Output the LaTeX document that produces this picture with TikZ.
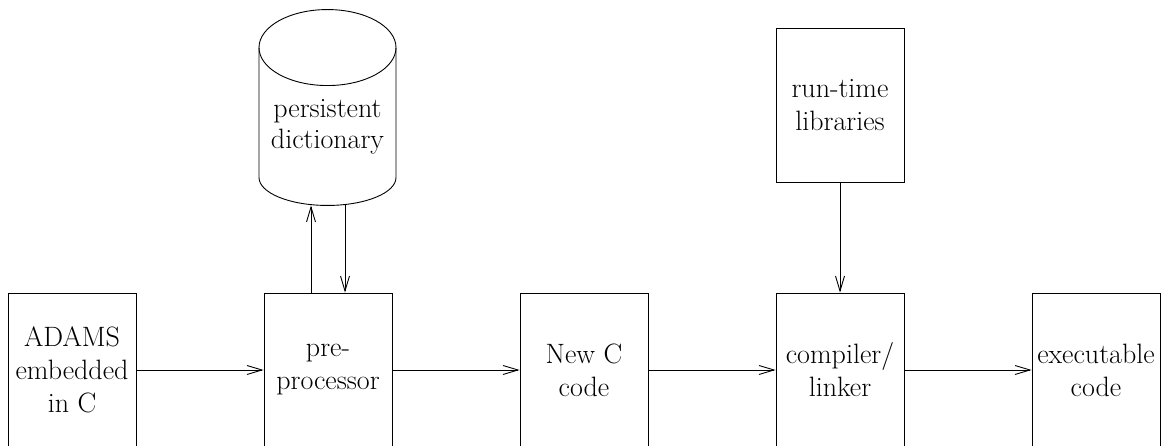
\documentclass[tikz,border=0pt]{standalone}
\usepackage{tikz}
\usetikzlibrary{arrows.meta,positioning}

\begin{document}
\begin{tikzpicture}[
  x=1pt, y=1pt,
  >={Straight Barb[length=15pt,width=9pt]},
  line width=0.9pt,
  box/.style={
    draw,
    align=center,
    minimum width=128pt,
    minimum height=154pt,
    inner sep=0pt,
    font=\fontsize{28}{33}\selectfont
  },
  store/.style={
    align=center,
    minimum width=137pt,
    minimum height=157pt,
    inner sep=0pt,
    font=\fontsize{28}{31}\selectfont
  },
  arrow/.style={->}
]
  \useasboundingbox (0,0) rectangle (1166,445);

  \node[box] (src) at (72,75) {ADAMS\\embedded\\in C};
  \node[box] (prep) at (328,75) {pre-\\processor};
  \node[box] (newc) at (584,75) {New C\\code};
  \node[box] (comp) at (840,75) {compiler/\\linker};
  \node[box] (exe) at (1096,75) {executable\\code};
  \node[box] (rtlib) at (840,339.5) {run-time\\libraries};
  \node[store] (dict) at (327.5,318.5) {persistent\\dictionary};

  % cylinder outline
  \draw (dict.north) ellipse [x radius=68.5, y radius=38];
  \draw ([xshift=-68.5]dict.north) -- ([xshift=-68.5,yshift=28]dict.south)
    arc [start angle=180, end angle=360, x radius=68.5, y radius=28]
    -- ([xshift=68.5]dict.north);

  \draw[arrow] (src) -- (prep);
  \draw[arrow] (prep) -- (newc);
  \draw[arrow] (newc) -- (comp);
  \draw[arrow] (comp) -- (exe);
  \draw[arrow] (rtlib) -- (comp);
  \draw[arrow] ([xshift=-17]prep.north) -- ([xshift=-17]prep.north |- dict.south);
  \draw[arrow] ([xshift=17]prep.north |- dict.south) -- ([xshift=17]prep.north);
\end{tikzpicture}
\end{document}
